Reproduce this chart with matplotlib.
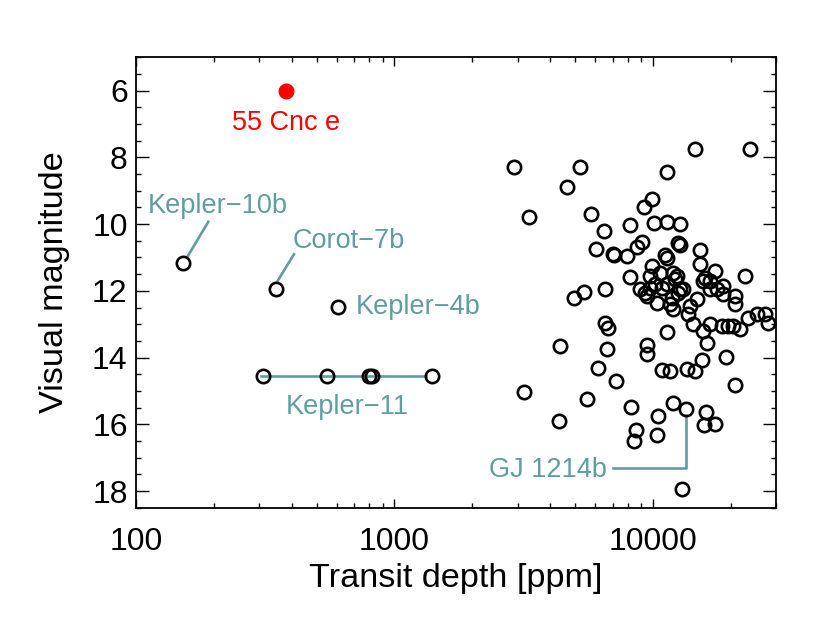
import matplotlib
matplotlib.use('Agg')
import matplotlib.pyplot as plt
from matplotlib.ticker import LogLocator, MultipleLocator, NullFormatter, FixedLocator, FixedFormatter

plt.rcParams['font.family'] = ['Liberation Sans', 'DejaVu Sans']

# ---- field planets (transit depth in ppm, visual magnitude) ----
depth_ppm = [2900, 5230, 14570, 23780, 11350, 4660, 9930, 9245, 3318, 5766,
             6474, 8163, 10107, 11350, 12742, 12515, 12742, 9083, 8687, 6029,
             7015, 7077, 7948, 15227, 11148, 11350, 15227, 9930, 8163, 9754,
             10664, 11970, 12405, 12185, 17403, 15922, 16646, 15642, 22740, 6531,
             8924, 9328, 9754, 10197, 10855, 11350, 12742, 13085, 16646, 17720,
             18690, 18690, 20806, 20806, 14834, 13932, 13686, 23356, 25308, 27183,
             27918, 14309, 16646, 18525, 19543, 20440, 21753, 6531, 6710, 11350,
             4955, 5416, 9495, 9495, 6650, 4374, 6137, 7204, 10855, 11659,
             13564, 14570, 15502, 16210, 19197, 20806, 3173, 5564, 4335, 8234,
             10474, 11970, 16065, 15780, 17403, 8610, 8456, 10382, 12972, 15642,
             9495, 10382, 11863, 11659, 11970, 12515]
vmag = [8.30, 8.30, 7.76, 7.76, 8.45, 8.88, 9.24, 9.48, 9.78, 9.69,
        10.20, 10.02, 9.96, 9.93, 9.99, 10.56, 10.62, 10.53, 10.68, 10.74,
        10.89, 10.92, 10.95, 10.77, 10.92, 11.02, 11.20, 11.26, 11.59, 11.56,
        11.47, 11.47, 11.56, 11.65, 11.41, 11.62, 11.71, 11.71, 11.56, 11.95,
        11.95, 12.07, 11.92, 11.80, 11.92, 11.80, 11.95, 11.95, 11.95, 11.95,
        11.86, 12.10, 12.16, 12.40, 12.25, 12.46, 12.70, 12.82, 12.70, 12.70,
        12.97, 13.00, 13.00, 13.06, 13.06, 13.06, 13.15, 12.97, 13.12, 13.24,
        12.22, 12.04, 13.61, 13.88, 13.73, 13.64, 14.30, 14.69, 14.36, 14.39,
        14.33, 14.39, 14.06, 13.55, 13.97, 14.81, 15.02, 15.23, 15.89, 15.47,
        15.74, 15.35, 15.62, 16.02, 15.98, 16.17, 16.50, 16.32, 17.94, 13.21,
        12.16, 12.37, 12.22, 12.40, 12.55, 12.07]

# ---- highlighted planets ----
cnc_depth, cnc_vmag = 380, 6.00
k10_depth, k10_vmag = 152, 11.17
corot_depth, corot_vmag = 348, 11.93
k4_depth, k4_vmag = 607, 12.48
k11_depth = [309, 548, 800, 817, 1394]
k11_vmag = [14.56, 14.56, 14.56, 14.56, 14.56]
gj_depth, gj_vmag = 13446, 15.53

x_major = [100, 1000, 10000]
x_major_labels = ['100', '1000', '10000']
y_major = [6, 8, 10, 12, 14, 16, 18]

TEAL = '#5F9EA0'
ANN = 19.5

fig = plt.figure(figsize=(8.3, 6.23), dpi=100)
ax = fig.add_axes([136/830, 1-507.7/623, (776-136)/830, (507.7-57.3)/623])
ax.set_xscale('log')
ax.set_xlim(100, 30000)
ax.set_ylim(18.5, 5.0)

# connector lines
ax.plot([158.6, 190.5], [10.96, 9.93], color=TEAL, lw=1.9, zorder=2)
ax.plot([353.5, 408.8], [11.70, 10.90], color=TEAL, lw=1.9, zorder=2)
ax.plot([305, 1330], [14.56, 14.56], color=TEAL, lw=1.9, zorder=2)
ax.plot([gj_depth, gj_depth, 7035], [15.72, 17.32, 17.32], color=TEAL, lw=1.9, zorder=2)

kw = dict(marker='o', linestyle='none', markersize=9.6, markerfacecolor='none',
          markeredgecolor='black', markeredgewidth=1.9, zorder=3)
ax.plot(depth_ppm, vmag, **kw)
ax.plot([gj_depth], [gj_vmag], **kw)
ax.plot([k10_depth], [k10_vmag], **kw)
ax.plot([corot_depth], [corot_vmag], **kw)
ax.plot([k4_depth], [k4_vmag], **kw)
ax.plot(k11_depth, k11_vmag, **kw)
ax.plot([cnc_depth], [cnc_vmag], marker='o', linestyle='none', markersize=10.5,
        color='red', zorder=4)

# labels
ax.text(cnc_depth, 7.18, '55 Cnc e', color='red', fontsize=ANN, ha='center', va='baseline')
ax.text(111, 9.68, 'Kepler\u221210b', color=TEAL, fontsize=ANN, ha='left', va='baseline')
ax.text(403, 10.73, 'Corot\u22127b', color=TEAL, fontsize=ANN, ha='left', va='baseline')
ax.text(709, 12.70, 'Kepler\u22124b', color=TEAL, fontsize=ANN, ha='left', va='baseline')
ax.text(380, 15.70, 'Kepler\u221211', color=TEAL, fontsize=ANN, ha='left', va='baseline')
ax.text(6633, 17.57, 'GJ 1214b', color=TEAL, fontsize=ANN, ha='right', va='baseline')

# axes styling
ax.xaxis.set_major_locator(FixedLocator(x_major))
ax.xaxis.set_major_formatter(FixedFormatter(x_major_labels))
ax.xaxis.set_minor_locator(LogLocator(base=10, subs=range(2, 10)))
ax.xaxis.set_minor_formatter(NullFormatter())
ax.yaxis.set_major_locator(FixedLocator(y_major))
ax.yaxis.set_minor_locator(MultipleLocator(0.5))

for s in ax.spines.values():
    s.set_linewidth(1.3)
ax.tick_params(axis='both', which='both', direction='in', top=True, right=True,
               width=1.0, labelsize=23)
ax.tick_params(axis='x', which='major', length=6.5, pad=14)
ax.tick_params(axis='x', which='minor', length=3.6)
ax.tick_params(axis='y', which='major', length=9.4, pad=6)
ax.tick_params(axis='y', which='minor', length=3.8)

ax.set_xlabel('Transit depth [ppm]', fontsize=24.7, labelpad=4)
ax.set_ylabel('Visual magnitude', fontsize=24.7, labelpad=16)

fig.savefig('out.png', dpi=100)
